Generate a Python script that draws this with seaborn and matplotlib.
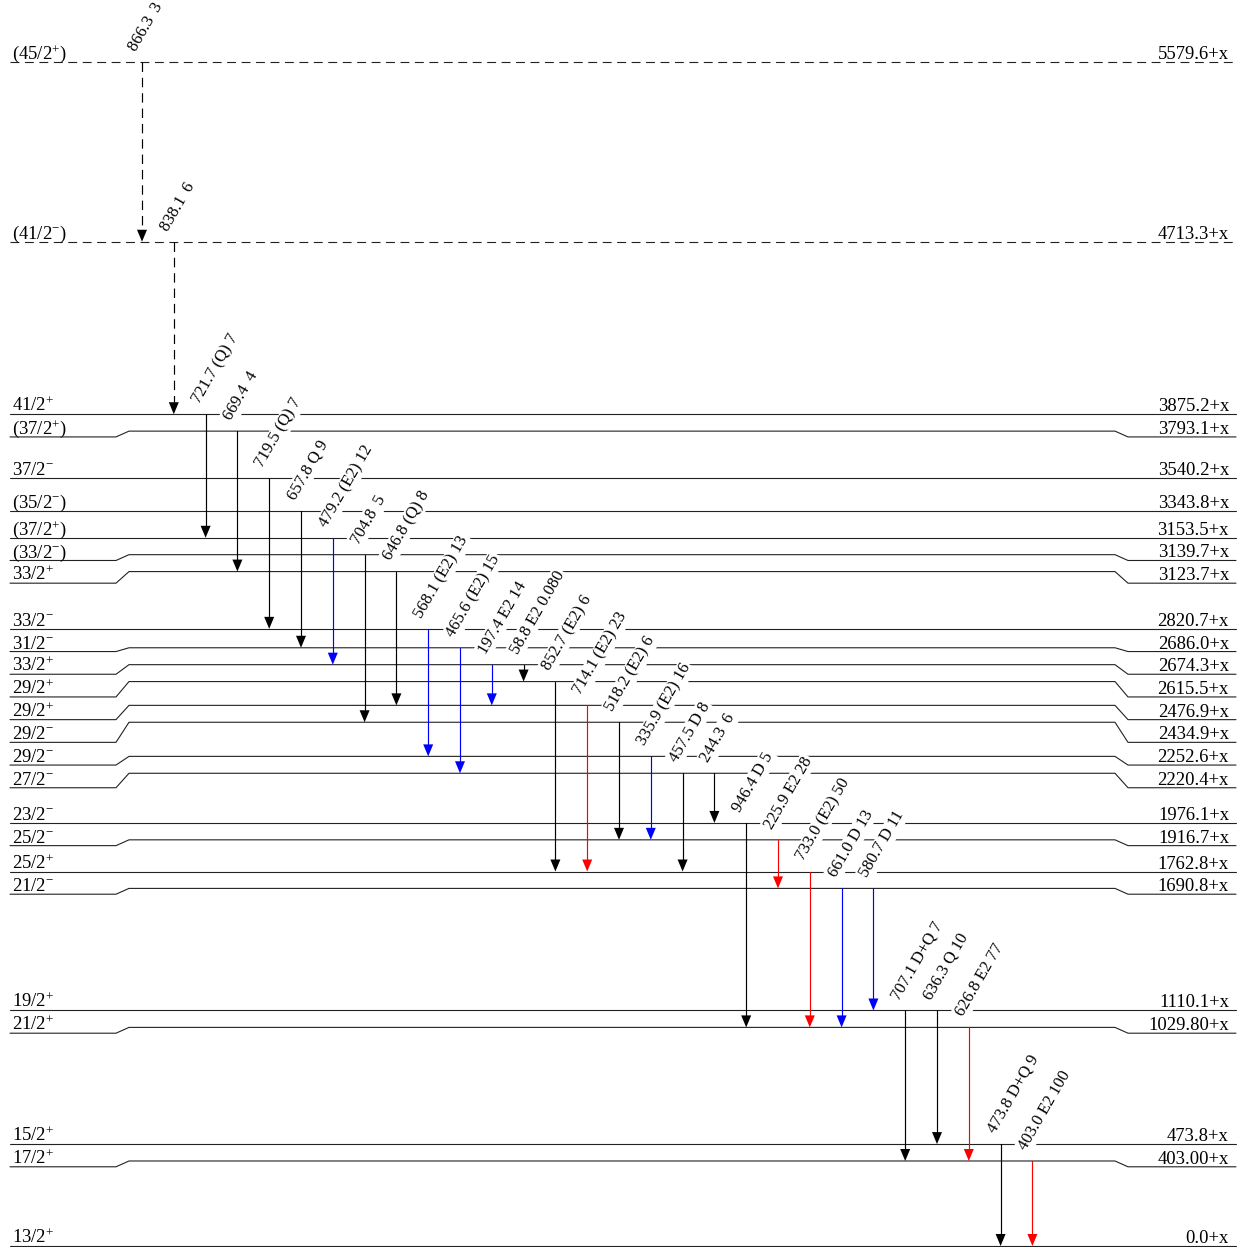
import numpy as np
import pandas as pd
import matplotlib
matplotlib.use("Agg")
import matplotlib.pyplot as plt
import seaborn as sns

# ---------------- level data ----------------
level_energy = [0.0, 403.00, 473.8, 1029.80, 1110.1, 1690.8, 1762.8, 1916.7,
                1976.1, 2220.4, 2252.6, 2434.9, 2476.9, 2615.5, 2674.3, 2686.0,
                2820.7, 3123.7, 3139.7, 3153.5, 3343.8, 3540.2, 3793.1, 3875.2,
                4713.3, 5579.6]
level_name = ["0.0+x", "403.00+x", "473.8+x", "1029.80+x", "1110.1+x",
              "1690.8+x", "1762.8+x", "1916.7+x", "1976.1+x", "2220.4+x",
              "2252.6+x", "2434.9+x", "2476.9+x", "2615.5+x", "2674.3+x",
              "2686.0+x", "2820.7+x", "3123.7+x", "3139.7+x", "3153.5+x",
              "3343.8+x", "3540.2+x", "3793.1+x", "3875.2+x", "4713.3+x",
              "5579.6+x"]
level_spin = ["13/2$^{+}$", "17/2$^{+}$", "15/2$^{+}$", "21/2$^{+}$",
              "19/2$^{+}$", "21/2$^{-}$", "25/2$^{+}$", "25/2$^{-}$",
              "23/2$^{-}$", "27/2$^{-}$", "29/2$^{-}$", "29/2$^{-}$",
              "29/2$^{+}$", "29/2$^{+}$", "33/2$^{+}$", "31/2$^{-}$",
              "33/2$^{-}$", "33/2$^{+}$", "(33/2$^{-}$)", "(37/2$^{+}$)",
              "(35/2$^{-}$)", "37/2$^{-}$", "(37/2$^{+}$)", "41/2$^{+}$",
              "(41/2$^{-}$)", "(45/2$^{+}$)"]
level_tentative = [False] * 24 + [True, True]

# ---------------- gamma-ray data ----------------
gamma_energy = [866.3, 838.1, 721.7, 669.4, 719.5, 657.8, 479.2, 704.8, 646.8,
                568.1, 465.6, 197.4, 58.8, 852.7, 714.1, 518.2, 335.9, 457.5,
                244.3, 946.4, 225.9, 733.0, 661.0, 580.7, 707.1, 636.3, 626.8,
                473.8, 403.0]
gamma_mult = ["", "", "(Q)", "", "(Q)", "Q", "(E2)", "", "(Q)", "(E2)", "(E2)",
              "E2", "E2", "(E2)", "(E2)", "(E2)", "(E2)", "D", "", "D", "E2",
              "(E2)", "D", "D", "D+Q", "Q", "E2", "D+Q", "E2"]
gamma_intensity = ["3", "6", "7", "4", "7", "9", "12", "5", "8", "13", "15",
                   "14", "0.080", "6", "23", "6", "16", "8", "6", "5", "28",
                   "50", "13", "11", "7", "10", "77", "9", "100"]
gamma_from = [5579.6, 4713.3, 3875.2, 3793.1, 3540.2, 3343.8, 3153.5, 3139.7,
              3123.7, 2820.7, 2686.0, 2674.3, 2674.3, 2615.5, 2476.9, 2434.9,
              2252.6, 2220.4, 2220.4, 1976.1, 1916.7, 1762.8, 1690.8, 1690.8,
              1110.1, 1110.1, 1029.80, 473.8, 403.00]
gamma_to = [4713.3, 3875.2, 3153.5, 3123.7, 2820.7, 2686.0, 2674.3, 2434.9,
            2476.9, 2252.6, 2220.4, 2476.9, 2615.5, 1762.8, 1762.8, 1916.7,
            1916.7, 1762.8, 1976.1, 1029.80, 1690.8, 1029.80, 1029.80, 1110.1,
            403.00, 473.8, 403.00, 0.0, 0.0]
gamma_tentative = [True, True] + [False] * 27

# ---------------- layout ----------------
W, H = 1243, 1247
SCALE = 0.2122        # drawing units per keV
MIN_GAP = 17.0        # minimum spacing between level lines
RELAX = 0.3           # how quickly crowded levels relax back towards scale
LABEL_GAP = 22.7      # minimum spacing between level labels
COL0, COL_STEP = 142.0, 31.8
HEAD_W, HEAD_L = 5.0, 12.0
FS_LEVEL = 13.4
FS_GAMMA = 12.0

n_lev = len(level_energy)
ypos = np.zeros(n_lev)
for i in range(1, n_lev):
    dev = ypos[i - 1] - SCALE * level_energy[i - 1]
    cand = SCALE * level_energy[i] + (1 - RELAX) * dev
    ypos[i] = max(ypos[i - 1] + MIN_GAP, cand)
# keep the full scheme within the nominal height
ypos *= SCALE * level_energy[-1] / ypos[-1]

ylab = ypos.copy()
for i in range(n_lev - 2, -1, -1):
    ylab[i] = min(ypos[i], ylab[i + 1] - LABEL_GAP)

lev_index = {e: i for i, e in enumerate(level_energy)}

# ---------------- style ----------------
sns.set_theme(style="white")
plt.rcParams["font.family"] = ["Liberation Serif", "DejaVu Serif"]
plt.rcParams["mathtext.fontset"] = "custom"
plt.rcParams["mathtext.rm"] = "Liberation Serif"
plt.rcParams["mathtext.it"] = "Liberation Serif:italic"
plt.rcParams["mathtext.bf"] = "Liberation Serif:bold"

fig = plt.figure(figsize=(W / 100, H / 100), dpi=100)
ax = fig.add_axes([0, 0, 1, 1])
ax.set_xlim(0, W)
ax.set_ylim(-1, H - 1)
ax.set_axis_off()

# ---------------- level lines ----------------
rows = []
for i in range(n_lev):
    pts = [(10, ylab[i]), (116, ylab[i]), (129, ypos[i]),
           (1115, ypos[i]), (1128, ylab[i]), (1236, ylab[i])]
    kind = "tentative" if level_tentative[i] else "firm"
    for k, (x, y) in enumerate(pts):
        rows.append({"x": x, "y": y, "level": i, "order": k, "kind": kind})
lev_df = pd.DataFrame(rows)
sns.lineplot(data=lev_df, x="x", y="y", units="level", estimator=None,
             sort=False, style="kind",
             dashes={"firm": "", "tentative": (8, 5)},
             color="#222222", linewidth=0.8, legend=False, ax=ax, zorder=2)

for i in range(n_lev):
    ax.text(12, ylab[i] + 3, level_spin[i], ha="left", va="baseline",
            fontsize=FS_LEVEL, color="black", zorder=5)
    ax.text(1229, ylab[i] + 3, level_name[i], ha="right", va="baseline",
            fontsize=FS_LEVEL, color="black", zorder=5)


# ---------------- transitions ----------------
def gamma_color(intensity):
    v = float(intensity)
    if v > 20:
        return "red"
    if v > 10:
        return "blue"
    return "black"


palette = {"black": "black", "blue": "#0000ff", "red": "#ff0000"}
trows = []
heads = []
for j, eg in enumerate(gamma_energy):
    x = COL0 + COL_STEP * j
    y0 = ypos[lev_index[gamma_from[j]]]
    y1 = ypos[lev_index[gamma_to[j]]]
    col = "black" if gamma_tentative[j] else gamma_color(gamma_intensity[j])
    kind = "tentative" if gamma_tentative[j] else "firm"
    trows.append({"x": x, "y": y0, "gamma": j, "color": col, "kind": kind})
    trows.append({"x": x, "y": y1 + HEAD_L, "gamma": j, "color": col, "kind": kind})
    heads.append((x, y1, col))
    if gamma_mult[j]:
        label = f"{eg:.1f} {gamma_mult[j]} {gamma_intensity[j]}"
    else:
        # empty multipolarity field leaves a slightly wider gap
        label = f"{eg:.1f} \u2009{gamma_intensity[j]}"
    ax.text(x - 6, y0 + 10, label, rotation=60, rotation_mode="anchor",
            ha="left", va="baseline", fontsize=FS_GAMMA, color="black",
            zorder=3, bbox=dict(facecolor="white", edgecolor="none", pad=1.0))

tr_df = pd.DataFrame(trows)
sns.lineplot(data=tr_df, x="x", y="y", units="gamma", estimator=None,
             sort=False, hue="color", palette=palette, style="kind",
             dashes={"firm": "", "tentative": (8, 5)},
             linewidth=0.85, legend=False, ax=ax, zorder=4)

for x, y1, col in heads:
    ax.fill([x - HEAD_W, x + HEAD_W, x], [y1 + HEAD_L, y1 + HEAD_L, y1],
            color=palette[col], lw=0, zorder=4)

fig.savefig("out.png", dpi=100)
